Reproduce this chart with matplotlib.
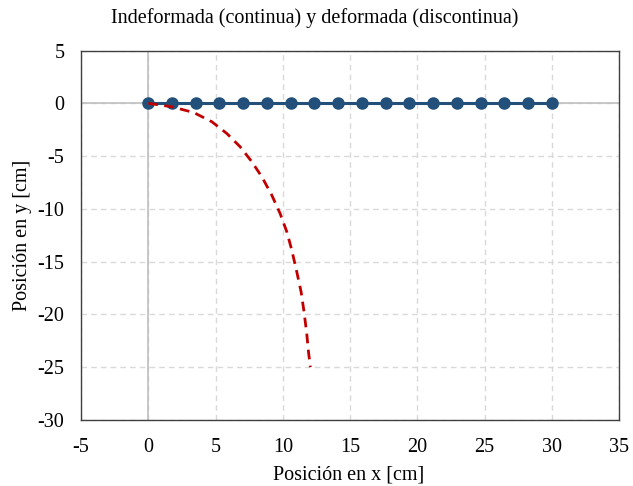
import numpy as np
import matplotlib
matplotlib.use("Agg")
import matplotlib.pyplot as plt

plt.rcParams['font.family'] = ['Liberation Serif', 'DejaVu Serif']
plt.rcParams['axes.unicode_minus'] = False

# viga sin deformar: 18 nodos
x_ind = [0, 1.76, 3.53, 5.29, 7.06, 8.82, 10.59, 12.35, 14.12, 15.88,
         17.65, 19.41, 21.18, 22.94, 24.71, 26.47, 28.24, 30]
y_ind = [0] * 18

# viga deformada
x_def = [0, 1.76, 3.37, 4.73, 5.84, 6.83, 7.70, 8.44, 9.18, 9.80,
         10.30, 10.67, 11.04, 11.36, 11.58, 11.78, 11.91, 12.05]
y_def = [0, -0.33, -0.87, -1.75, -2.86, -4.12, -5.54, -6.96, -8.70, -10.44,
         -12.18, -13.92, -15.97, -17.86, -19.76, -21.81, -23.55, -25.0]

x_ticks = [-5, 0, 5, 10, 15, 20, 25, 30, 35]
y_ticks = [5, 0, -5, -10, -15, -20, -25, -30]

fig = plt.figure(figsize=(6.33, 4.86), dpi=100)
ax = fig.add_axes([0.128, 0.136, 0.850, 0.760])

ax.set_xlim(-5, 35)
ax.set_ylim(-30, 5)
ax.set_xticks(x_ticks)
ax.set_yticks(y_ticks)
ax.tick_params(length=0, labelsize=14.5)
ax.tick_params(axis='x', pad=13)
ax.tick_params(axis='y', pad=12)

ax.grid(True, color='#d9d9d9', linestyle=(0, (4, 3)), linewidth=1)
ax.axhline(0, color='#bfbfbf', linewidth=1.2, zorder=1)
ax.axvline(0, color='#bfbfbf', linewidth=1.2, zorder=1)
ax.set_axisbelow(True)

for s in ax.spines.values():
    s.set_color('#404040')
    s.set_linewidth(1)

ax.plot(x_ind, y_ind, '-o', color='#22507a', linewidth=2.2, markersize=8, zorder=3)
ax.plot(x_def, y_def, color='#c00000', linestyle=(0, (3.5, 2.3)), linewidth=2, zorder=4)

fig.text(0.497, 0.953, 'Indeformada (continua) y deformada (discontinua)',
         fontsize=14.5, ha='center', va='baseline')
ax.set_xlabel('Posición en x [cm]', fontsize=14.5, va='baseline')
ax.xaxis.set_label_coords(0.497, -0.162)
ax.set_ylabel('Posición en y [cm]', fontsize=14.5, va='center')
ax.yaxis.set_label_coords(-0.108, 0.5)

fig.savefig('out.png', dpi=100)
